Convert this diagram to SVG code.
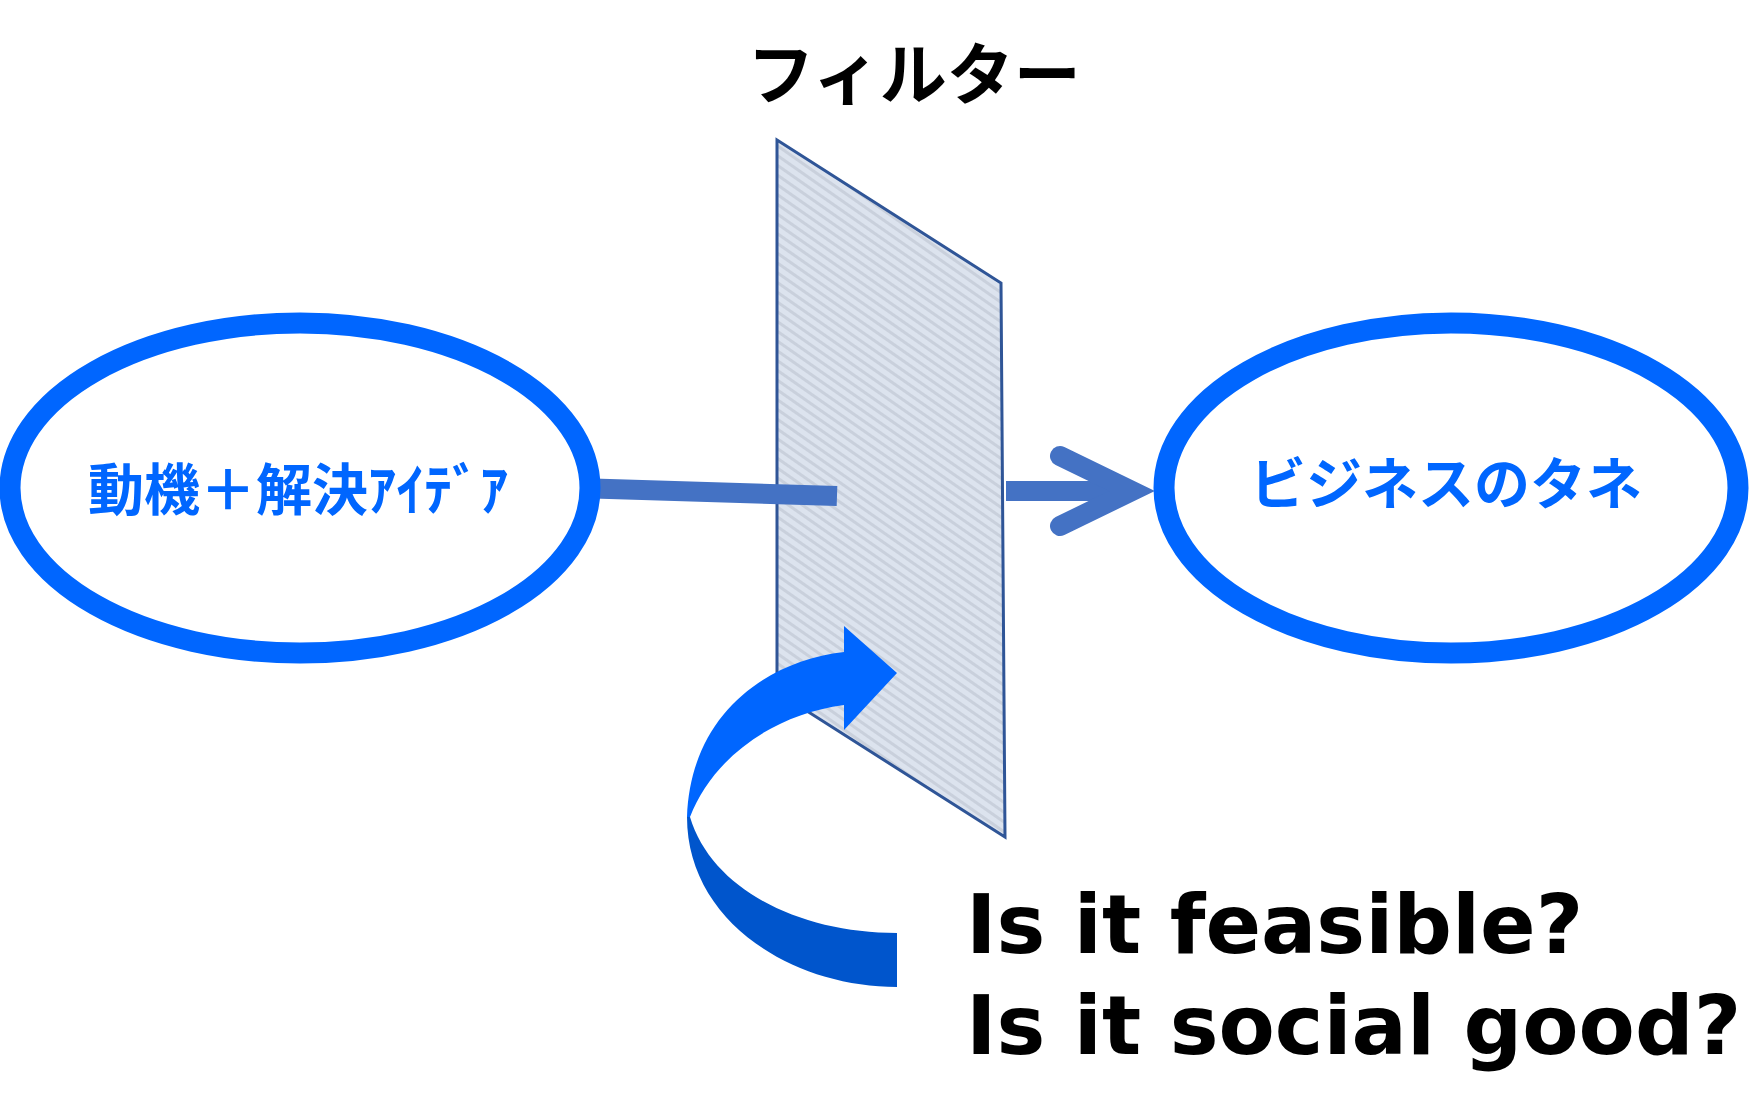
<svg xmlns="http://www.w3.org/2000/svg" width="1755" height="1117" viewBox="0 0 1755 1117">
<style>
.ell{fill:#fff;stroke:#0066FF;stroke-width:21}
.lbl{font-family:"Noto Sans CJK JP",sans-serif;font-weight:700;fill:#0066FF;font-size:56px;text-anchor:middle}
.conn{stroke:#4472C4;stroke-width:20;fill:none}
.q{font-family:"DejaVu Sans",sans-serif;font-weight:700;font-size:82px;fill:#000}
</style>
<defs>
<pattern id="tex" width="8" height="8" patternUnits="userSpaceOnUse" patternTransform="rotate(35)">
<rect width="8" height="8" fill="#DCE3EE"/>
<rect x="0" y="0" width="8" height="3" fill="#C9D0DC"/>
</pattern>
</defs>
<text x="914" y="99" font-family="Noto Sans CJK JP,sans-serif" font-weight="700" font-size="67" text-anchor="middle">フィルター</text>
<g id="filter">
<polygon points="777,140 1001,283 1005,837 777,692" fill="url(#tex)" stroke="#2F5597" stroke-width="3"/>
</g>
<g id="connectors">
<line class="conn" x1="577" y1="488" x2="837" y2="496"/>
<line class="conn" x1="1006" y1="491" x2="1130" y2="491"/>
<polyline class="conn" points="1060,456 1132,491 1060,526" stroke-linecap="round" stroke-linejoin="miter"/>
</g>
<g id="left">
<ellipse class="ell" cx="300" cy="488" rx="290" ry="165"/>
<text class="lbl" x="298" y="510">動機＋解決ｱｲﾃﾞｱ</text>
</g>
<g id="right">
<ellipse class="ell" cx="1451" cy="488" rx="287" ry="165"/>
<text class="lbl" x="1446" y="504">ビジネスのタネ</text>
</g>
<g id="curve">
<path d="M687,817 C687,920 790,987 897,987 L897,933 C800,933 712,890 690,817 Z" fill="#0055CC"/>
<path d="M687,817 C690,720 760,662 844,652 L844,626 L897,673 L844,730 L844,705 C770,715 712,760 690,817 Z" fill="#0066FF"/>
</g>
<text class="q" x="966" y="953">Is it feasible?</text>
<text class="q" x="966" y="1054">Is it social good?</text>
</svg>
